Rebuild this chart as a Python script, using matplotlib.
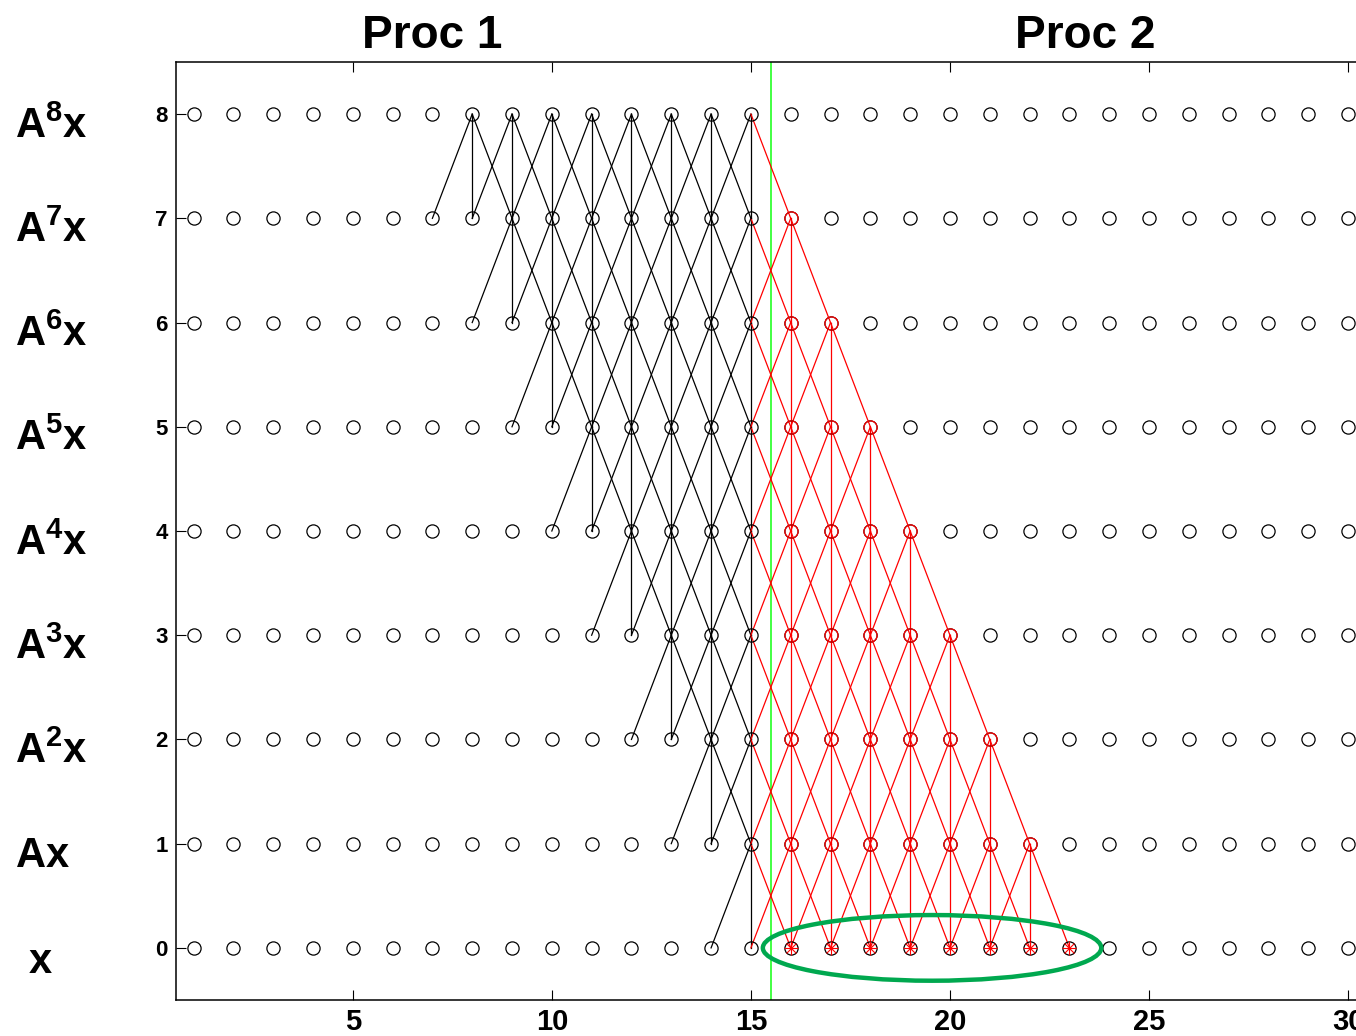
import numpy as np
import matplotlib
matplotlib.use('Agg')
import matplotlib.pyplot as plt
from matplotlib.patches import Ellipse
import matplotlib.transforms as mtransforms

#Fonts: bold sans (no narrow face available)
fam = ['Liberation Sans', 'DejaVu Sans']
plt.rcParams['font.family'] = fam
plt.rcParams['mathtext.fontset'] = 'custom'
plt.rcParams['mathtext.bf'] = 'Liberation Sans:bold'
plt.rcParams['mathtext.rm'] = 'Liberation Sans:bold'

#grid of vector entries and powers
positions = list(range(1, 31))
levels = list(range(0, 9))
row_labels = [r'$\mathbf{x}$', r'$\mathbf{Ax}$', r'$\mathbf{A^{2}x}$', r'$\mathbf{A^{3}x}$',
              r'$\mathbf{A^{4}x}$', r'$\mathbf{A^{5}x}$', r'$\mathbf{A^{6}x}$',
              r'$\mathbf{A^{7}x}$', r'$\mathbf{A^{8}x}$']
proc_names = ['Proc 1', 'Proc 2']
proc_centers = [7.0, 23.4]
boundary = 15.5
last_own = 15
#first computed entry of proc 1 at each level (index = level)
black_start = [None, 15, 14, 13, 12, 11, 10, 9, 8]
#last ghost entry computed redundantly at each level (index = level)
red_end = [23, 22, 21, 20, 19, 18, 17, 16, None]
stencil = [-1, 0, 1]
xticks = [5, 10, 15, 20, 25, 30]

fig = plt.figure(figsize=(13.56, 10.36), dpi=100)
ax = fig.add_axes([176/1356, 36/1036, 1192/1356, 938/1036])

lw = 0.9
#proc 1 dependencies
for k in range(1, 9):
    for j in range(black_start[k], last_own + 1):
        for d in stencil:
            c = 'red' if j + d > last_own else 'black'
            ax.plot([j, j + d], [k, k - 1], color=c, lw=lw, zorder=2)
#ghost zone dependencies
for k in range(1, 8):
    for j in range(last_own + 1, red_end[k] + 1):
        for d in stencil:
            ax.plot([j, j + d], [k, k - 1], color='red', lw=lw, zorder=2)

#all nodes
X, Y = np.meshgrid(positions, levels)
ax.plot(X.ravel(), Y.ravel(), 'o', ms=9.5, mfc='none', mec='black', mew=0.9, zorder=3)
#ghost nodes
for k in range(1, 8):
    xs = list(range(last_own + 1, red_end[k] + 1))
    ax.plot(xs, [k]*len(xs), 'o', ms=9.5, mfc='none', mec='red', mew=0.9, zorder=4)
#fetched entries (asterisks)
xs0 = list(range(last_own + 1, red_end[0] + 1))
ax.plot(xs0, [0]*len(xs0), '+', ms=9.5, color='red', mew=0.8, ls='none', zorder=4)
ax.plot(xs0, [0]*len(xs0), 'x', ms=7, color='red', mew=0.8, ls='none', zorder=4)

ax.axvline(boundary, color='#22ff22', lw=1.2, zorder=1)
ax.add_patch(Ellipse((19.55, 0.0), 8.5, 0.63, fill=False, ec='#00a84f', lw=3.2, zorder=5))

ax.set_xlim(0.56, 30.5)
ax.set_ylim(-0.5, 8.5)
ax.set_xticks(xticks)
ax.set_yticks(levels)
ax.tick_params(direction='in', length=7, width=0.8, top=True, right=True)
ax.tick_params(axis='x', labelsize=21, pad=6)
ax.tick_params(axis='y', labelsize=16, pad=6)
for lab in ax.get_xticklabels() + ax.get_yticklabels():
    lab.set_fontweight('bold')
for s in ax.spines.values():
    s.set_linewidth(1.1)

#row labels on the left
tr = mtransforms.blended_transform_factory(fig.transFigure, ax.transData)
for k, lab in enumerate(row_labels):
    if k == 0:
        ax.text(40/1356, k - 0.14, lab, transform=tr, ha='center', va='center',
                fontsize=30, clip_on=False)
    else:
        ax.text(15/1356, k - 0.12, lab, transform=tr, ha='left', va='center',
                fontsize=30, clip_on=False)

#processor titles
trt = mtransforms.blended_transform_factory(ax.transData, fig.transFigure)
for name, xc in zip(proc_names, proc_centers):
    ax.text(xc, 1 - 48/1036, name, transform=trt, ha='center', va='baseline',
            fontsize=33, fontweight='bold', clip_on=False)

fig.savefig('out.png', dpi=100)
